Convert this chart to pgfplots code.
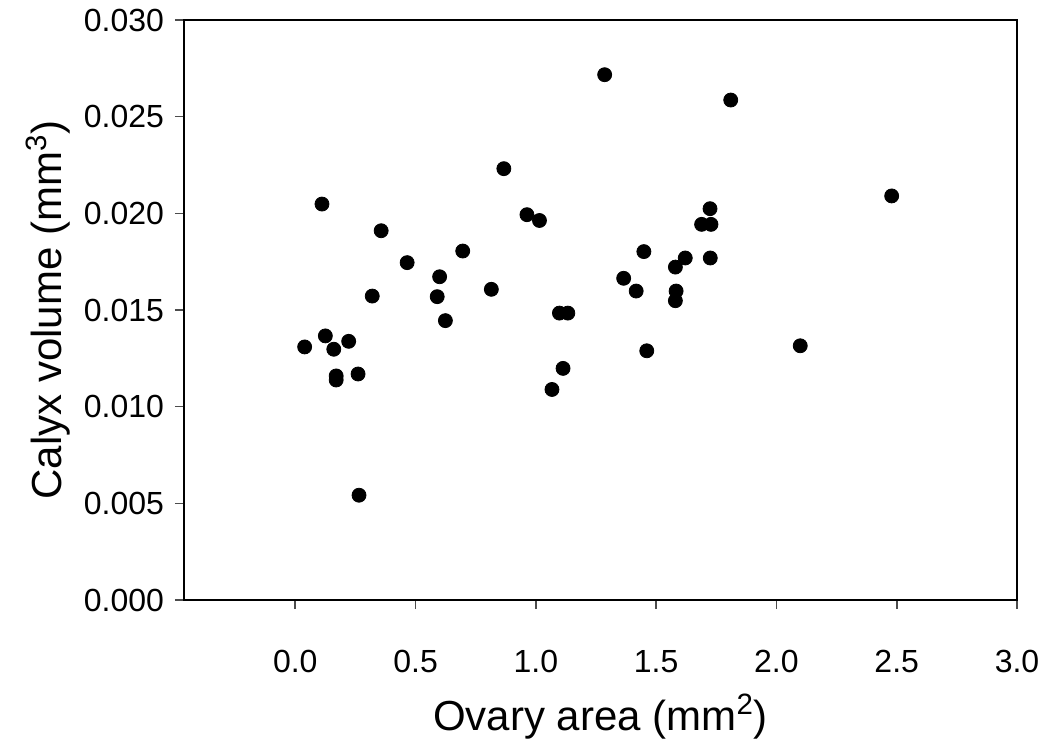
\documentclass[border=0pt]{standalone}
\usepackage{pgfplots}
\pgfplotsset{compat=1.18}
\usepackage{fontspec}
\setmainfont{Liberation Sans}
\begin{document}
\begin{tikzpicture}
\begin{axis}[
  scale only axis,
  width=416.5pt, height=290pt,
  xmin=-0.4625, xmax=3.0,
  ymin=0, ymax=0.030,
  xtick={0,0.5,...,3.0},
  ytick={0,0.005,...,0.0301},
  xtick pos=bottom, ytick pos=left,
  tick align=outside,
  major tick length=4.5pt,
  axis line style={black, line width=0.8pt},
  tick style={black!70, line width=0.8pt},
  scaled x ticks=false, scaled y ticks=false,
  /pgf/number format/assume math mode=true,
  xticklabel style={/pgf/number format/fixed, /pgf/number format/fixed zerofill, /pgf/number format/precision=1, font=\fontsize{16}{18}\selectfont, yshift=-17pt},
  yticklabel style={/pgf/number format/fixed, /pgf/number format/fixed zerofill, /pgf/number format/precision=3, font=\fontsize{16}{18}\selectfont, xshift=-2pt},
  xlabel={Ovary area (mm\textsuperscript{2})},
  ylabel={Calyx volume (mm\textsuperscript{3})},
  label style={font=\fontsize{21}{24}\selectfont},
  xlabel style={yshift=-4pt},
  ylabel style={yshift=0pt},
]
\addplot[only marks, mark=*, mark size=3.5pt, black] table {
x y
0.039 0.01309
0.111 0.02048
0.125 0.01366
0.160 0.01297
0.170 0.01159
0.170 0.01138
0.222 0.01338
0.261 0.01169
0.265 0.00542
0.320 0.01572
0.357 0.01910
0.465 0.01745
0.590 0.01569
0.600 0.01672
0.624 0.01445
0.696 0.01805
0.815 0.01607
0.867 0.02231
0.963 0.01993
1.015 0.01963
1.067 0.01089
1.098 0.01484
1.133 0.01484
1.113 0.01198
1.286 0.02717
1.365 0.01664
1.417 0.01598
1.449 0.01802
1.461 0.01289
1.580 0.01722
1.583 0.01598
1.580 0.01548
1.621 0.01769
1.689 0.01943
1.728 0.01943
1.724 0.02024
1.725 0.01769
1.810 0.02586
2.099 0.01315
2.479 0.02090
};
\end{axis}
\pgfresetboundingbox
\path ([shift={(-92pt,-69pt)}]current axis.south west) rectangle ([shift={(15pt,10pt)}]current axis.north east);
\end{tikzpicture}
\end{document}
